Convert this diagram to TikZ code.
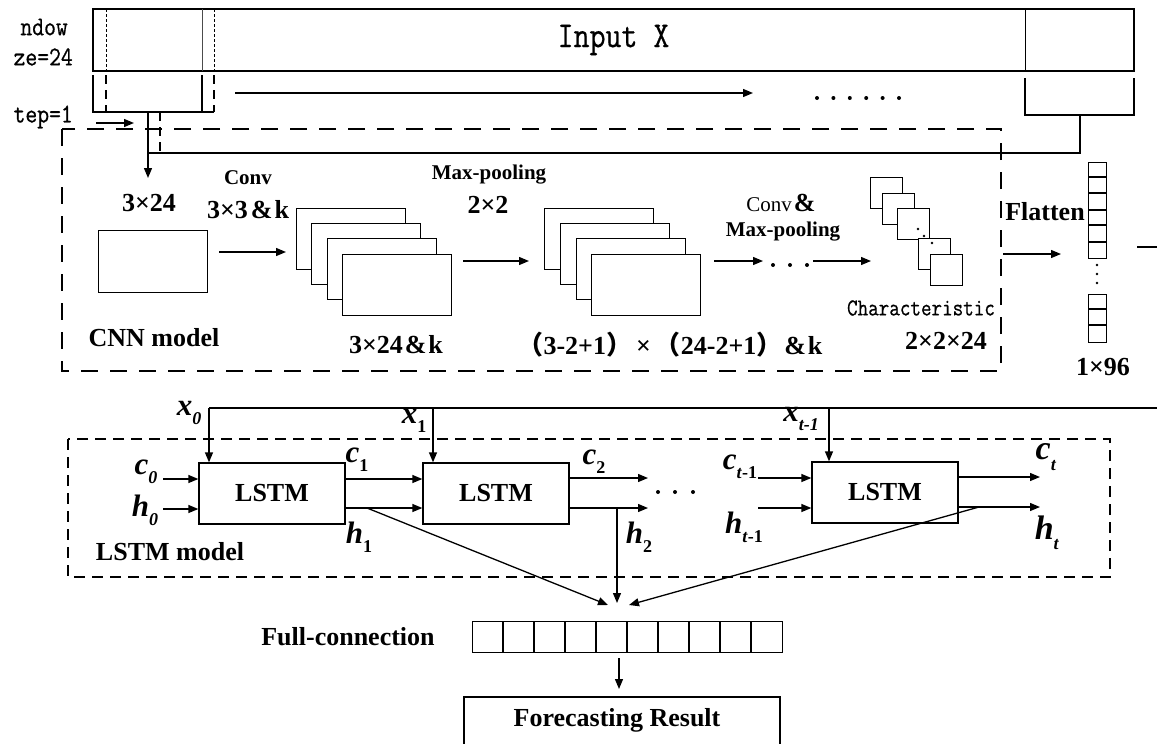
\documentclass[tikz,border=0pt]{standalone}
\usepackage{fontspec}
\setmainfont{Liberation Serif}
\newfontfamily\cjk{Noto Sans CJK SC}
\newfontfamily\monob[FakeBold=0.7]{Latin Modern Mono}
\usetikzlibrary{arrows.meta}
\newcommand\fs[1]{\fontsize{#1}{#1}\selectfont}
\newcommand\sv[2]{\textbf{\textit{#1}}\raisebox{-0.3em}{\fs{18}\bfseries #2}}
\newcommand\mt[2]{\scalebox{1}[1.18]{\monob\fs{#1}#2}}
\begin{document}
\begin{tikzpicture}[x=1pt,y=-1pt,
  ln/.style={line width=1.3pt},
  arr/.style={line width=1.3pt,-{Triangle[length=10pt,width=8pt]}},
  dshA/.style={line width=2pt,dash pattern=on 17pt off 12pt},
  dshB/.style={line width=2pt,dash pattern=on 11pt off 7pt},
  fine/.style={line width=0.9pt,dash pattern=on 3pt off 2pt},
  brk/.style={line width=1.3pt,dash pattern=on 9pt off 6pt},
  bx/.style={draw,line width=1.3pt,fill=white,inner sep=0pt,anchor=north west},
  bl/.style={font=\fs{26}\bfseries,inner sep=0pt},
  sm/.style={font=\fs{21}\bfseries,inner sep=0pt},
  vr/.style={font=\fs{31},inner sep=0pt},
  txt/.style={inner sep=0pt}]
\useasboundingbox (0,0) rectangle (1157,744);
% ---------------- top input -----------------
\node[draw,line width=2pt,minimum width=1041pt,minimum height=62pt,inner sep=0pt] (inp) at (613.5,40) {\mt{31}{Input X}};
\draw[fine] (106,9) -- (106,71);
\draw[line width=1pt,black!70] (202,9) -- (202,71);
\draw[fine] (214,9) -- (214,71);
\draw[line width=1pt] (1025,9) -- (1025,71);
\node[txt,anchor=east] (tw1) at (68,27) {\mt{23}{ndow}};
\node[txt,anchor=east] (tw2) at (73,57) {\mt{23}{ze=24}};
\node[txt,anchor=east] (tw3) at (73,117) {\mt{23}{tep=1}};
% left bracket
\coordinate (lbA) at (93,75); \coordinate (lbB) at (93,112);
\coordinate (lbC) at (202,75); \coordinate (lbD) at (202,112);
\coordinate (lbE) at (214,112);
\draw[ln] (lbA) -- (lbB) -- (lbE);
\draw[ln] (lbC) -- (lbD);
\draw[brk] (106,75) -- (106,112);
\draw[brk] (214,75) -- (214,112);
\draw[brk] (160,112) -- (160,153);
% right bracket
\coordinate (rbA) at (1025,78); \coordinate (rbB) at (1134,78);
\draw[ln] (rbA) -- (1025,115) -- (1134,115) -- (rbB);
\coordinate (stemTop) at (148,112);
\coordinate (cnnIn) at (148,178);
\draw[arr] (stemTop) -- (cnnIn);
\coordinate (rj) at (1080,153);
\draw[ln] (1080,115) -- (rj) -- (148,153);
% step arrow and sliding arrow
\coordinate (sa1) at (96,123); \coordinate (sa2) at (134,123);
\draw[arr] (sa1) -- (sa2);
\coordinate (mv1) at (235,93); \coordinate (mv2) at (753,93);
\draw[arr] (mv1) -- (mv2);
\foreach \i in {0,...,5} \fill (817+16.4*\i,98) circle (2pt);
% ---------------- CNN -----------------
\draw[dshA] (62,129) rectangle (1001,371);
\node[bl] (t324) at (149,203) {3×24};
\node[sm] (tconv) at (248,178) {Conv};
\node[bl] (t33k) at (248,210) {3×3\hspace{3pt}\&\hspace{2pt}k};
\node[bx,minimum width=109pt,minimum height=62pt] (inbox) at (98,230) {};
\node[bl] (tcnn) at (154,338) {CNN model};
\coordinate (a1s) at (219,252); \coordinate (a1e) at (286,252);
\draw[arr] (a1s) -- (a1e);
\foreach \dx/\dy [count=\k] in {296/208,311/223,327/238,342/254}
  \node[bx,minimum width=109pt,minimum height=61pt] (s1\k) at (\dx,\dy) {};
\node[bl] (t324k) at (396,345) {3×24\hspace{2pt}\&\hspace{2pt}k};
\node[sm] (tmp) at (489,175) {Max-pooling};
\node[bl] (t22) at (488,205) {2×2};
\coordinate (a2s) at (463,261); \coordinate (a2e) at (529,261);
\draw[arr] (a2s) -- (a2e);
\foreach \dx/\dy [count=\k] in {544/208,560/223,576/238,591/254}
  \node[bx,minimum width=109pt,minimum height=61pt] (s2\k) at (\dx,\dy) {};
\node[bl] (tform) at (670,345) {{\cjk （}3-2+1{\cjk ）}\hspace{4pt}×\hspace{4pt}{\cjk （}24-2+1{\cjk ）}\hspace{2pt}\&\hspace{2pt}k};
\node[txt,font=\fs{21}] (tconv2) at (781,203) {Conv\hspace{2pt}{\fs{26}\bfseries\&}};
\node[sm] (tmp2) at (783,232) {Max-pooling};
\coordinate (a3s) at (714,261); \coordinate (a3e) at (763,261);
\draw[arr] (a3s) -- (a3e);
\foreach \x in {773,790,807} \fill (\x,265) circle (2pt);
\coordinate (a4s) at (813,261); \coordinate (a4e) at (871,261);
\draw[arr] (a4s) -- (a4e);
\foreach \dx/\dy [count=\k] in {870/177,882/193,897/208,918/238,930/254}
  \node[bx,minimum width=32pt,minimum height=31pt] (q\k) at (\dx,\dy) {};
\foreach \x/\y in {918/229,924/236,932/243} \fill (\x,\y) circle (1.3pt);
\node[txt] (tchar) at (921,308) {\mt{20.5}{Characteristic}};
\node[bl] (t2224) at (946,341) {2×2×24};
% ---------------- flatten -----------------
\coordinate (fls) at (1003,254); \coordinate (fle) at (1061,254);
\draw[arr] (fls) -- (fle);
\node[bl] (tflat) at (1045,212) {Flatten};
\node[bx,minimum width=18pt,minimum height=96pt] (fcol1) at (1088,162) {};
\foreach \y in {177,193,210,225,242} \draw[ln] (1088,\y) -- (1106,\y);
\node[bx,minimum width=18pt,minimum height=48pt] (fcol2) at (1088,294) {};
\foreach \y in {309,325} \draw[ln] (1088,\y) -- (1106,\y);
\foreach \y in {265,274,283} \fill (1097,\y) circle (1.3pt);
\node[bl] (t196) at (1103,367) {1×96};
\coordinate (fo1) at (1137,247); \coordinate (fo2) at (1157,247);
\draw[ln] (fo1) -- (fo2);
% ---------------- LSTM -----------------
\draw[dshB] (68,439) rectangle (1110,577);
\coordinate (xr) at (1157,408);
\coordinate (x0t) at (209,408);
\draw[ln] (x0t) -- (xr);
\node[bx,minimum width=146pt,minimum height=61pt,anchor=center,font=\fs{26}\bfseries] (L1) at (272,493.5) {LSTM};
\node[bx,minimum width=146pt,minimum height=61pt,anchor=center,font=\fs{26}\bfseries] (L2) at (496,493.5) {LSTM};
\node[bx,minimum width=146pt,minimum height=61pt,anchor=center,font=\fs{26}\bfseries] (L3) at (885,492.5) {LSTM};
\draw[arr] (x0t) -- (x0t |- L1.north);
\coordinate (x1t) at (433,408);
\draw[arr] (x1t) -- (x1t |- L2.north);
\coordinate (xtt) at (829,408);
\draw[arr] (xtt) -- (xtt |- L3.north);
\node[vr] (lx0) at (189,413) {\sv{x}{\textit{0}}};
\node[vr] (lx1) at (414,421) {\sv{x}{1}};
\node[vr] (lxt) at (801,419) {\sv{x}{\textit{t-1}}};
% inputs of L1
\coordinate (c0s) at (163,479); \coordinate (h0s) at (163,509);
\draw[arr] (c0s) -- (c0s -| L1.west);
\draw[arr] (h0s) -- (h0s -| L1.west);
\node[vr] (lc0) at (146,472) {\sv{c}{\textit{0}}};
\node[vr] (lh0) at (145,510) {\sv{h}{\textit{0}}};
\node[bl] (tlstm) at (170,552) {LSTM model};
% L1 -> L2
\coordinate (c1r) at (L1.east |- 0,479); \coordinate (h1r) at (L1.east |- 0,508);
\draw[arr] (c1r) -- (c1r -| L2.west);
\draw[arr] (h1r) -- (h1r -| L2.west);
\node[vr] (lc1) at (357,460) {\sv{c}{1}};
\node[vr] (lh1) at (359,537) {\sv{h}{1}};
% L2 outputs
\coordinate (c2e) at (648,478); \coordinate (h2e) at (648,508);
\draw[arr] (L2.east |- c2e) -- (c2e);
\draw[arr] (L2.east |- h2e) -- (h2e);
\node[vr] (lc2) at (594,462) {\sv{c}{2}};
\node[vr] (lh2) at (639,537) {\sv{h}{2}};
\foreach \x in {658,675,693} \fill (\x,492) circle (2pt);
% into L3
\coordinate (cts) at (758,478); \coordinate (hts) at (758,508);
\draw[arr] (cts) -- (cts -| L3.west);
\draw[arr] (hts) -- (hts -| L3.west);
\node[vr] (lct1) at (740,467) {\sv{c}{\textit{t}-1}};
\node[vr] (lht1) at (744,527) {\sv{h}{\textit{t}-1}};
% L3 outputs
\coordinate (cte) at (1040,477); \coordinate (hte) at (1040,507);
\draw[arr] (L3.east |- cte) -- (cte);
\draw[arr] (L3.east |- hte) -- (hte);
\node[txt,font=\fs{34}] (lct) at (1046,457) {\sv{c}{\textit{t}}};
\node[txt,font=\fs{34}] (lht) at (1047,533) {\sv{h}{\textit{t}}};
% ---------------- full connection -----------------
\coordinate (d1) at (367,508); \coordinate (d1e) at (608,605);
\draw[arr] (d1) -- (d1e);
\coordinate (d2) at (617,508); \coordinate (d2e) at (617,603);
\draw[arr] (d2) -- (d2e);
\coordinate (d3) at (979,507); \coordinate (d3e) at (629,605);
\draw[arr] (d3) -- (d3e);
\node[bx,minimum width=310pt,minimum height=31pt] (fc) at (472,621) {};
\foreach \i in {1,...,9} \draw[ln] (472+31*\i,621) -- (472+31*\i,652);
\node[bl] (tfc) at (348,637) {Full-connection};
\coordinate (fcb) at (619,658); \coordinate (frt) at (619,689);
\draw[arr] (fcb) -- (frt);
\draw[ln] (464,746) -- (464,697) -- (780,697) -- (780,746);
\node[bl] (tres) at (617,720) {Forecasting Result};
\end{tikzpicture}
\end{document}
